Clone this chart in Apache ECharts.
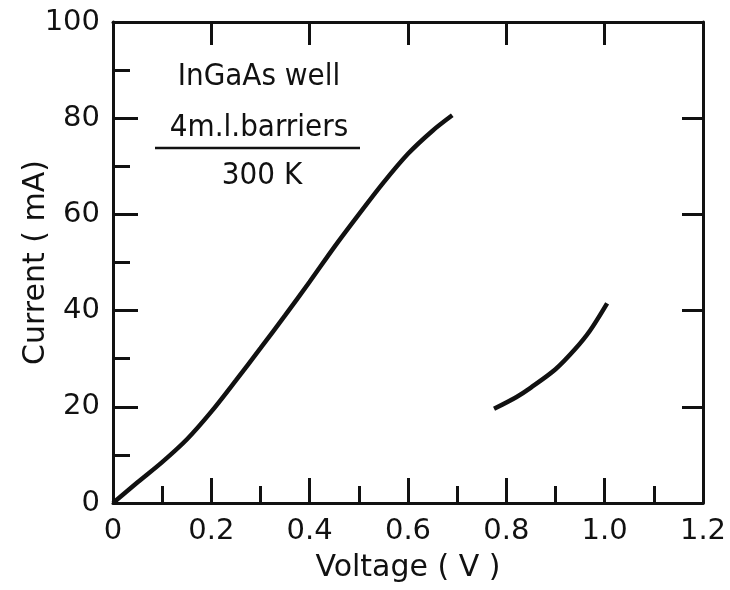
<!DOCTYPE html>
<html>
<head>
<meta charset="utf-8">
<script src="https://cdn.jsdelivr.net/npm/echarts@6/dist/echarts.min.js"></script>
<style>
  html, body { margin: 0; padding: 0; background: #fff; }
  #main { width: 730px; height: 590px; }
</style>
</head>
<body>
<div id="main"></div>
<script>
  // values
  var lowBranch = [
    [0, 0], [0.05, 4.3], [0.1, 8.5], [0.15, 13.2], [0.2, 19], [0.25, 25.5],
    [0.3, 32.2], [0.35, 39], [0.4, 46], [0.45, 53.2], [0.5, 60], [0.55, 66.6],
    [0.6, 72.6], [0.65, 77.4], [0.69, 80.6]
  ];
  var highBranch = [
    [0.775, 19.6], [0.82, 22], [0.85, 24], [0.9, 27.8], [0.94, 32],
    [0.97, 35.8], [1.005, 41.5]
  ];
  var noteLines = ['InGaAs well', '4m.l.barriers', '300 K'];

  var myChart = echarts.init(document.getElementById('main'));
  var font = 'DejaVu Sans';
  var noteFont = '31px "DejaVu Sans Condensed", "DejaVu Sans"';
  var ink = '#111';

  var option = {
    backgroundColor: '#fff',
    animation: false,
    grid: { left: 113, right: 27, top: 22, bottom: 87 },
    xAxis: [{
      type: 'value', min: 0, max: 1.2, interval: 0.2,
      name: 'Voltage ( V )', nameLocation: 'middle', nameGap: 50,
      nameTextStyle: { fontFamily: font, fontSize: 30, color: ink },
      axisLine: { onZero: false, lineStyle: { color: ink, width: 3 } },
      axisTick: { inside: true, length: 25, lineStyle: { color: ink, width: 3 } },
      minorTick: { show: true, splitNumber: 2, length: 17, lineStyle: { color: ink, width: 3 } },
      axisLabel: {
        fontFamily: font, fontSize: 29, color: ink, margin: 14,
        formatter: function (v) { return v === 0 ? '0' : v.toFixed(1); }
      },
      splitLine: { show: false }
    }, {
      type: 'value', min: 0, max: 1.2, interval: 0.2, position: 'top',
      axisLine: { onZero: false, lineStyle: { color: ink, width: 3 } },
      axisTick: { inside: true, length: 23, lineStyle: { color: ink, width: 3 } },
      axisLabel: { show: false },
      splitLine: { show: false }
    }],
    yAxis: [{
      type: 'value', min: 0, max: 100, interval: 20,
      name: 'Current ( mA)', nameLocation: 'middle', nameGap: 62,
      nameMoveOverlap: false,
      nameTextStyle: { fontFamily: font, fontSize: 30, color: ink },
      axisLine: { onZero: false, lineStyle: { color: ink, width: 3 } },
      axisTick: { inside: true, length: 25, lineStyle: { color: ink, width: 3 } },
      minorTick: { show: true, splitNumber: 2, length: 17, lineStyle: { color: ink, width: 3 } },
      axisLabel: { fontFamily: font, fontSize: 29, color: ink, margin: 13 },
      splitLine: { show: false }
    }, {
      type: 'value', min: 0, max: 100, interval: 20, position: 'right',
      axisLine: { onZero: false, lineStyle: { color: ink, width: 3 } },
      axisTick: { inside: true, length: 21, lineStyle: { color: ink, width: 3 } },
      axisLabel: { show: false },
      splitLine: { show: false }
    }],
    graphic: [
      { type: 'text', x: 259, y: 77,
        style: { text: noteLines[0], font: noteFont, fill: ink, align: 'center', verticalAlign: 'middle' } },
      { type: 'text', x: 259, y: 128,
        style: { text: noteLines[1], font: noteFont, fill: ink, align: 'center', verticalAlign: 'middle' } },
      { type: 'line', shape: { x1: 155, y1: 148, x2: 360, y2: 148 },
        style: { stroke: ink, lineWidth: 2.5 } },
      { type: 'text', x: 262, y: 176,
        style: { text: noteLines[2], font: noteFont, fill: ink, align: 'center', verticalAlign: 'middle' } }
    ],
    series: [{
      type: 'line', data: lowBranch, smooth: 0.3, showSymbol: false,
      lineStyle: { color: ink, width: 4.5 }
    }, {
      type: 'line', data: highBranch, smooth: 0.3, showSymbol: false,
      lineStyle: { color: ink, width: 4.5 }
    }]
  };
  myChart.setOption(option);
</script>
</body>
</html>
